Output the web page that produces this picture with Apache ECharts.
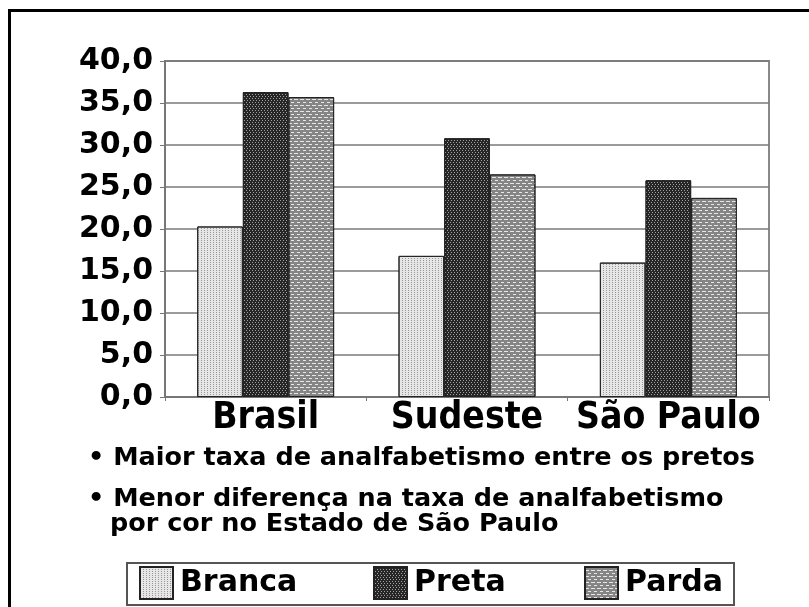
<!DOCTYPE html>
<html>
<head>
<meta charset="utf-8">
<script src="https://cdn.jsdelivr.net/npm/echarts@6/dist/echarts.min.js"></script>
<style>
  html, body { margin: 0; padding: 0; background: #fff; }
  #chart { width: 809px; height: 607px; }
</style>
</head>
<body>
<div id="chart"></div>
<script>
// dados (taxa de analfabetismo, %)
const categorias = ['Brasil', 'Sudeste', 'São Paulo']
const branca = [20.3, 16.8, 16.0]
const preta = [36.3, 30.8, 25.8]
const parda = [35.7, 26.5, 23.7]
const notas = [
  '• Maior taxa de analfabetismo entre os pretos',
  '• Menor diferença na taxa de analfabetismo',
  'por cor no Estado de São Paulo'
]

const fonteLarga = '"DejaVu Sans", Verdana, sans-serif'
const fonteEstreita = '"DejaVu Sans Condensed", "DejaVu Sans", sans-serif'

const decalBranca = { symbol: 'rect', symbolSize: 1, color: '#999', dashArrayX: [1, 2], dashArrayY: [1, 1] }
const decalPreta = { symbol: 'rect', symbolSize: 1, color: '#a0a0a0', dashArrayX: [[1, 2], [0, 1, 1, 1]], dashArrayY: [1, 1] }
const decalParda = { symbol: 'rect', symbolSize: 1, color: 'rgba(255,255,255,0.8)', dashArrayX: [[4, 2], [0, 3, 3, 0]], dashArrayY: [1, 2] }

function serie (name, data, color, decal) {
  return {
    name: name,
    type: 'bar',
    data: data,
    barGap: '0%',
    barCategoryGap: '32%',
    itemStyle: { color: color, decal: decal, borderColor: '#222', borderWidth: 1 }
  }
}

function legenda (name, left) {
  return {
    data: [name],
    left: left,
    top: 566,
    padding: 0,
    itemWidth: 33,
    itemHeight: 32,
    icon: 'rect',
    selectedMode: false,
    textStyle: { fontSize: 30, fontWeight: 'bold', color: '#000', fontFamily: fonteLarga, padding: [0, 0, 0, 2] }
  }
}

const myChart = echarts.init(document.getElementById('chart'))
const option = {
  backgroundColor: '#fff',
  animation: false,
  grid: {
    left: 165,
    right: 40,
    top: 61,
    bottom: 210,
    show: true,
    borderColor: '#888',
    borderWidth: 2
  },
  xAxis: {
    type: 'category',
    data: categorias,
    axisLine: { lineStyle: { color: '#777', width: 2 } },
    axisTick: { show: true, length: 4, lineStyle: { color: '#777' } },
    axisLabel: {
      interval: 0,
      hideOverlap: false,
      fontSize: 37,
      fontWeight: 'bold',
      color: '#000',
      fontFamily: fonteEstreita,
      margin: 3
    }
  },
  yAxis: {
    type: 'value',
    min: 0,
    max: 40,
    interval: 5,
    axisLine: { show: true, lineStyle: { color: '#777', width: 2 } },
    axisTick: { show: true, length: 5, lineStyle: { color: '#777' } },
    splitLine: { lineStyle: { color: '#7a7a7a', width: 1.5 } },
    axisLabel: {
      fontSize: 30,
      fontWeight: 'bold',
      color: '#000',
      fontFamily: fonteLarga,
      margin: 12,
      formatter: v => v.toFixed(1).replace('.', ',')
    }
  },
  legend: [legenda('Branca', 139), legenda('Preta', 373), legenda('Parda', 584)],
  series: [
    serie('Branca', branca, '#e6e6e6', decalBranca),
    serie('Preta', preta, '#262626', decalPreta),
    serie('Parda', parda, '#858585', decalParda)
  ],
  graphic: [
    {
      type: 'rect',
      shape: { x: 9.5, y: 10.5, width: 820, height: 620 },
      style: { fill: null, stroke: '#000', lineWidth: 3 },
      silent: true
    },
    {
      type: 'rect',
      shape: { x: 127, y: 563, width: 607, height: 42 },
      style: { fill: null, stroke: '#555', lineWidth: 2 },
      silent: true,
      z: -1
    },
    {
      type: 'text',
      style: { x: 88, y: 458, text: notas[0], font: 'bold 25.5px ' + fonteLarga, fill: '#000', verticalAlign: 'middle' }
    },
    {
      type: 'text',
      style: { x: 88, y: 499, text: notas[1], font: 'bold 25.5px ' + fonteLarga, fill: '#000', verticalAlign: 'middle' }
    },
    {
      type: 'text',
      style: { x: 110, y: 524, text: notas[2], font: 'bold 25.5px ' + fonteLarga, fill: '#000', verticalAlign: 'middle' }
    }
  ]
}
myChart.setOption(option)
</script>
</body>
</html>
